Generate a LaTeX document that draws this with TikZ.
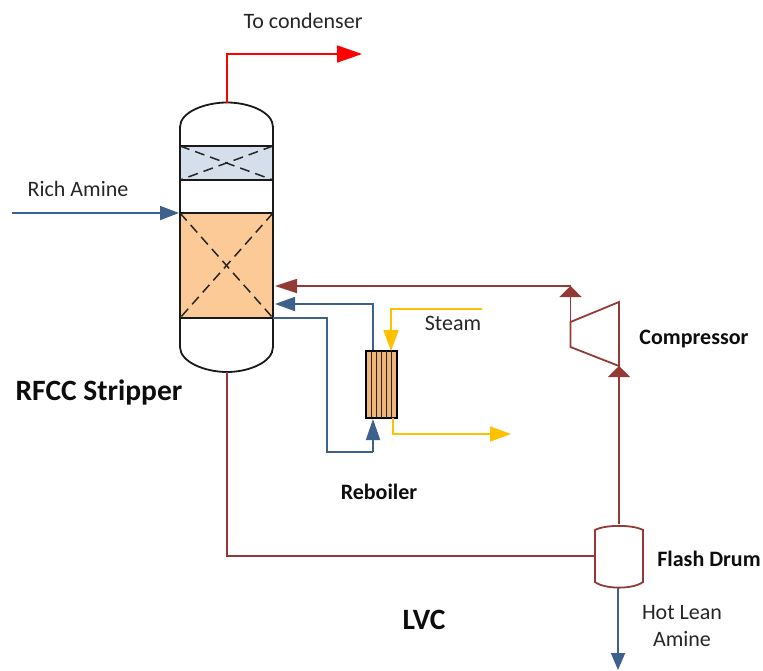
\documentclass[tikz,border=0pt]{standalone}
\usepackage{fontspec}
\setmainfont{Carlito}
\usetikzlibrary{arrows.meta}
\definecolor{hotred}{RGB}{148,58,54}
\definecolor{flowblue}{RGB}{62,96,140}
\definecolor{steamy}{RGB}{255,192,0}
\definecolor{packblue}{RGB}{213,223,236}
\definecolor{packorange}{RGB}{252,202,150}
\definecolor{tubeorange}{RGB}{240,180,120}
\tikzset{
  x=1pt,y=-1pt,
  shell/.style={draw=black!90,line width=1.8pt},
  packing/.style={draw=black!90,line width=2pt},
  cross/.style={draw=black!85,line width=1.5pt,dash pattern=on 10pt off 6pt},
  hotline/.style={draw=hotred,line width=1.8pt},
  blueline/.style={draw=flowblue,line width=1.8pt},
  steamline/.style={draw=steamy,line width=1.9pt},
  hottip/.style={-{Triangle[length=11pt,width=22pt,fill=hotred]}},
  bluetip/.style={-{Triangle[length=19pt,width=14pt,fill=flowblue]}},
  steamtip/.style={-{Triangle[length=21pt,width=15pt,fill=steamy]}},
  label/.style={font=\fontsize{22}{26}\selectfont,text=black!85,inner sep=0pt},
  bold/.style={font=\fontsize{22}{26}\selectfont\bfseries,text=black!95,inner sep=0pt},
  bigbold/.style={font=\fontsize{29.5}{33}\selectfont\bfseries,text=black!95,inner sep=0pt}
}
\begin{document}
\begin{tikzpicture}
\useasboundingbox (0,0) rectangle (763,670);
% named anchors
\coordinate (towertop) at (227,103);
\coordinate (towerbot) at (227,372);
\coordinate (feedin) at (12,213);
\coordinate (feedend) at (179,213);
\coordinate (condtip) at (362,54);
\coordinate (condcorner) at (227,54);
\coordinate (retred) at (275,286);
\coordinate (retblue) at (275,304);
\coordinate (drawoff) at (273,318);
\coordinate (rebtop) at (373,351);
\coordinate (rebbot) at (373,419);
\coordinate (compin) at (619,366);
\coordinate (compout) at (570.5,286);
\coordinate (drumtop) at (619,524);
\coordinate (drumleft) at (595,556);
\coordinate (drumbot) at (618,588);
\coordinate (leantip) at (618,670);
\coordinate (steamstart) at (482,309);
\coordinate (steamin) at (391,351);
\coordinate (condout) at (393,418);
\coordinate (condendtip) at (511,434);
% tower
\path[packing,fill=packblue] (180,146) rectangle (273,180);
\path[packing,fill=packorange] (180,213) rectangle (273,318);
\draw[cross] (180,146) -- (273,180);
\draw[cross] (273,146) -- (180,180);
\draw[cross] (180,213) -- (273,318);
\draw[cross] (273,213) -- (180,318);
\path[shell] (180,347) -- (180,127) .. controls (180,112) and (205,102.5) .. (227,102.5)
  .. controls (249,102.5) and (273,112) .. (273,127) -- (273,347)
  .. controls (273,362) and (249,372) .. (227,372) .. controls (205,372) and (180,362) .. (180,347) -- cycle;
% tower connectors
\draw[draw=red,line width=1.8pt,-{Triangle[length=25pt,width=17pt,fill=red]}] (towertop) -- (condcorner) -- (condtip);
\draw[blueline,bluetip] (feedin) -- (feedend);
\draw[blueline] (drawoff) -- (327,318) -- (327,452) -- (373,452);
\draw[blueline,-{Triangle[length=21pt,width=14pt,fill=flowblue]}] (373,452) -- (rebbot);
\draw[blueline,-{Triangle[length=20pt,width=14pt,fill=flowblue]}] (rebtop) -- (373,304) -- (retblue);
% reboiler
\path[draw=black,fill=tubeorange,line width=1.6pt] (366,351) rectangle (397,418);
\foreach \x in {371.7,376.7,381.7,386.7,391.7}{\draw[black!85,line width=1.2pt] (\x,351) -- (\x,418);}
% steam
\draw[steamline,steamtip] (steamstart) -- (391,309) -- (steamin);
\draw[steamline,-{Triangle[length=21pt,width=15pt,fill=steamy]}] (condout) -- (393,434) -- (condendtip);
% compressor
\path[hotline] (570.5,322) -- (619,302) -- (619,366) -- (570.5,347) -- cycle;
\draw[hotline,-{Triangle[length=11pt,width=22pt,fill=hotred]}] (570.5,322) -- (compout);
\draw[hotline] (570.5,286) -- (560,286);
\draw[hotline,-{Triangle[length=22pt,width=14pt,fill=hotred]}] (560,286) -- (retred);
\draw[hotline,hottip] (drumtop) -- (compin);
% flash drum
\path[hotline] (595,530) .. controls (605,524.5) and (633,524.5) .. (643,530) -- (643,582)
  .. controls (633,589.5) and (605,589.5) .. (595,582) -- cycle;
\draw[hotline] (towerbot) -- (227,556) -- (drumleft);
\draw[blueline,-{Triangle[length=17pt,width=14pt,fill=flowblue]}] (drumbot) -- (leantip);
% labels
\node[label] (tocond) at (303,21) {To condenser};
\node[label] (rich) at (78,189) {Rich Amine};
\node[label] (steam) at (453,323) {Steam};
\node[label] (hot) at (682,613) {Hot Lean};
\node[label] (amine) at (682,639) {Amine};
\node[bigbold] (stripper) at (99,392) {RFCC Stripper};
\node[bold] (comp) at (694,339) {Compressor};
\node[bold] (reb) at (379,492) {Reboiler};
\node[bold] (drum) at (709,559) {Flash Drum};
\node[bigbold] (lvc) at (424,620) {LVC};
\end{tikzpicture}
\end{document}
